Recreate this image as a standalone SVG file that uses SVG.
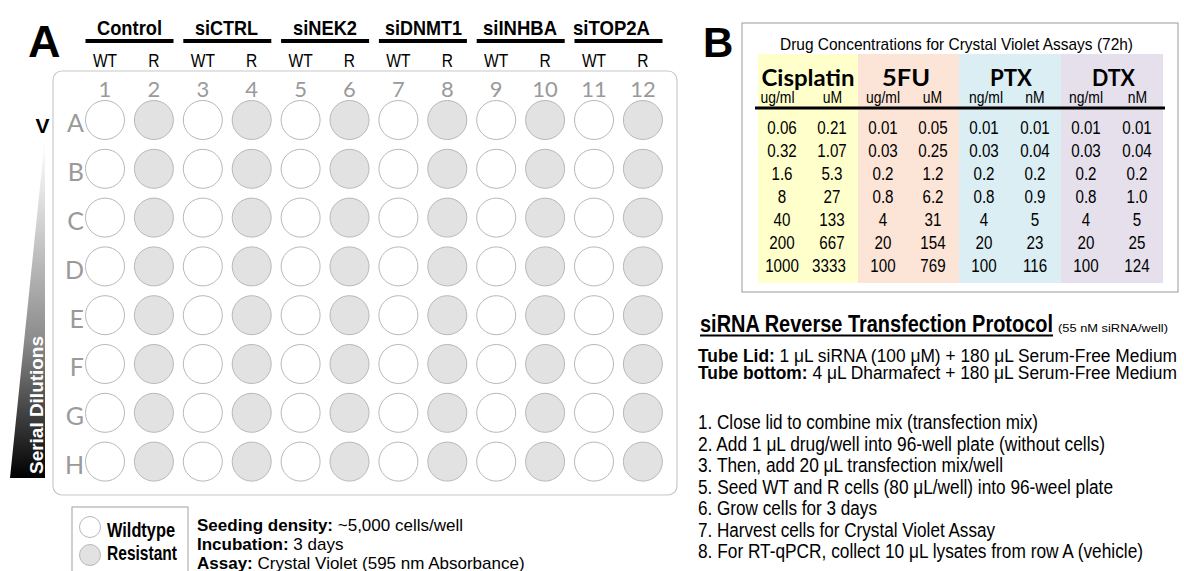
<svg xmlns="http://www.w3.org/2000/svg" width="1184" height="571" viewBox="0 0 1184 571">
<style>
.n{font-family:"Liberation Sans Narrow","Liberation Sans",Arial,sans-serif;font-stretch:condensed}
.s{font-family:"Liberation Sans",Arial,sans-serif}
.b{font-weight:bold}
.cal{font-family:Lato,"Open Sans",sans-serif}
.gr{fill:#9a9a9a}
.w{fill:#fff;stroke:#b8b8b8;stroke-width:1}
.g{fill:#e2e2e2;stroke:#b8b8b8;stroke-width:1}
.bar{stroke:#000;stroke-width:4}
.hd{font-size:21px}
.wr{font-size:19px;text-anchor:middle}
.num{font-size:22px;text-anchor:middle}
.let{font-size:25px;text-anchor:end}
.d{font-size:18.5px;text-anchor:middle}
.u{font-size:17px;text-anchor:middle}
.th{font-size:23px;text-anchor:middle;font-weight:bold}
.p{font-size:20px}
</style>
<defs>
<linearGradient id="wedge" x1="0" y1="0" x2="0" y2="1">
<stop offset="0" stop-color="#fff"/>
<stop offset="0.15" stop-color="#e6e6e6"/>
<stop offset="0.6" stop-color="#8a8a8a"/>
<stop offset="1" stop-color="#000"/>
</linearGradient>
<g id="wellrow">
<circle class="w" cx="105" cy="0" r="19.5"/>
<circle class="g" cx="153.9" cy="0" r="19.5"/>
<circle class="w" cx="202.8" cy="0" r="19.5"/>
<circle class="g" cx="251.7" cy="0" r="19.5"/>
<circle class="w" cx="300.6" cy="0" r="19.5"/>
<circle class="g" cx="349.5" cy="0" r="19.5"/>
<circle class="w" cx="398.4" cy="0" r="19.5"/>
<circle class="g" cx="447.3" cy="0" r="19.5"/>
<circle class="w" cx="496.2" cy="0" r="19.5"/>
<circle class="g" cx="545.1" cy="0" r="19.5"/>
<circle class="w" cx="594" cy="0" r="19.5"/>
<circle class="g" cx="642.9" cy="0" r="19.5"/>
</g>
</defs>
<rect width="1184" height="571" fill="#fff"/>

<g id="panel-a">
<text x="28" y="57" class="s b" font-size="45">A</text>

<g id="headers" class="n b hd" text-anchor="middle">
<text x="129.5" y="35" textLength="65" lengthAdjust="spacingAndGlyphs">Control</text>
<text x="226.5" y="35" textLength="63" lengthAdjust="spacingAndGlyphs">siCTRL</text>
<text x="325" y="35" textLength="64" lengthAdjust="spacingAndGlyphs">siNEK2</text>
<text x="423.5" y="35" textLength="77" lengthAdjust="spacingAndGlyphs">siDNMT1</text>
<text x="520" y="35" textLength="74" lengthAdjust="spacingAndGlyphs">siINHBA</text>
<text x="611.5" y="35" textLength="77" lengthAdjust="spacingAndGlyphs">siTOP2A</text>
</g>
<g id="header-bars" class="bar">
<line x1="85.5" y1="41" x2="173.5" y2="41"/>
<line x1="183.3" y1="41" x2="271.3" y2="41"/>
<line x1="281.1" y1="41" x2="369.1" y2="41"/>
<line x1="378.9" y1="41" x2="466.9" y2="41"/>
<line x1="476.7" y1="41" x2="564.7" y2="41"/>
<line x1="574.5" y1="41" x2="662.5" y2="41"/>
</g>
<g id="wt-r" class="n wr" transform="scale(0.82,1)">
<text x="128.05" y="67">WT</text><text x="187.68" y="67">R</text>
<text x="247.32" y="67">WT</text><text x="306.95" y="67">R</text>
<text x="366.59" y="67">WT</text><text x="426.22" y="67">R</text>
<text x="485.85" y="67">WT</text><text x="545.49" y="67">R</text>
<text x="605.12" y="67">WT</text><text x="664.76" y="67">R</text>
<text x="724.39" y="67">WT</text><text x="784.02" y="67">R</text>
</g>

<g id="plate">
<rect x="53" y="71" width="624" height="424" rx="9" fill="#fff" stroke="#c8c8c8" stroke-width="1.2"/>
<g class="cal num gr">
<text x="105" y="97">1</text><text x="153.9" y="97">2</text><text x="202.8" y="97">3</text>
<text x="251.7" y="97">4</text><text x="300.6" y="97">5</text><text x="349.5" y="97">6</text>
<text x="398.4" y="97">7</text><text x="447.3" y="97">8</text><text x="496.2" y="97">9</text>
<text x="545.1" y="97">10</text><text x="594" y="97">11</text><text x="642.9" y="97">12</text>
</g>
<g class="cal let gr">
<text x="84" y="132">A</text><text x="84" y="181">B</text><text x="84" y="230">C</text>
<text x="84" y="279">D</text><text x="84" y="328">E</text><text x="84" y="376">F</text>
<text x="84" y="425">G</text><text x="84" y="474">H</text>
</g>
<use href="#wellrow" y="120"/>
<use href="#wellrow" y="168.8"/>
<use href="#wellrow" y="217.6"/>
<use href="#wellrow" y="266.4"/>
<use href="#wellrow" y="315.2"/>
<use href="#wellrow" y="364"/>
<use href="#wellrow" y="412.8"/>
<use href="#wellrow" y="461.6"/>
</g>

<g id="dilution">
<text x="42.5" y="133" class="s b" font-size="21" text-anchor="middle">V</text>
<polygon points="45,138 45,478 10,478" fill="url(#wedge)"/>
<text transform="translate(43,405) rotate(-90)" class="n b" font-size="18" fill="#fff" text-anchor="middle" textLength="138" lengthAdjust="spacingAndGlyphs">Serial Dilutions</text>
</g>

<g id="legend">
<rect x="72" y="507" width="116" height="70" fill="#fff" stroke="#a0a0a0" stroke-width="1"/>
<circle class="w" cx="90" cy="527" r="10.5"/>
<circle class="g" cx="90" cy="555" r="10.5"/>
<text x="107" y="537" class="n b" font-size="21" textLength="68" lengthAdjust="spacingAndGlyphs">Wildtype</text>
<text x="107" y="560" class="n b" font-size="21" textLength="70" lengthAdjust="spacingAndGlyphs">Resistant</text>
</g>
<g id="conditions" class="s" font-size="17">
<text x="197" y="531"><tspan class="b">Seeding density:</tspan> ~5,000 cells/well</text>
<text x="197" y="550"><tspan class="b">Incubation:</tspan> 3 days</text>
<text x="197" y="569"><tspan class="b">Assay:</tspan> Crystal Violet (595 nm Absorbance)</text>
</g>
</g>

<g id="panel-b">
<text x="703" y="57" class="s b" font-size="42">B</text>
<g id="table">
<rect x="742" y="23" width="436" height="269" fill="#fff" stroke="#999" stroke-width="1"/>
<text x="956.5" y="50" class="n" font-size="17" text-anchor="middle" textLength="353" lengthAdjust="spacingAndGlyphs">Drug Concentrations for Crystal Violet Assays (72h)</text>
<rect x="758" y="54" width="100" height="229" fill="#ffffcc"/>
<rect x="858" y="54" width="101" height="229" fill="#fce4d6"/>
<rect x="959" y="54" width="102" height="229" fill="#daeef3"/>
<rect x="1061" y="54" width="102" height="229" fill="#e5e0ec"/>
<g class="cal th">
<text x="808" y="86" textLength="93" lengthAdjust="spacingAndGlyphs">Cisplatin</text>
<text x="906" y="86" textLength="48" lengthAdjust="spacingAndGlyphs">5FU</text>
<text x="1011" y="86" textLength="42" lengthAdjust="spacingAndGlyphs">PTX</text>
<text x="1113.5" y="86" textLength="43" lengthAdjust="spacingAndGlyphs">DTX</text>
</g>
<g class="n u" transform="scale(0.82,1)">
<text x="948.17" y="103">ug/ml</text><text x="1015.24" y="103">uM</text>
<text x="1076.83" y="103">ug/ml</text><text x="1137.2" y="103">uM</text>
<text x="1202.44" y="103">ng/ml</text><text x="1262.2" y="103">nM</text>
<text x="1324.39" y="103">ng/ml</text><text x="1387.2" y="103">nM</text>
</g>
<line x1="755" y1="108" x2="1165" y2="108" stroke="#000" stroke-width="3"/>
<g class="n d" transform="scale(0.82,1)">
<text x="953.66" y="134">0.06</text><text x="1014.63" y="134">0.21</text><text x="1076.83" y="134">0.01</text><text x="1137.8" y="134">0.05</text><text x="1200" y="134">0.01</text><text x="1262.2" y="134">0.01</text><text x="1324.39" y="134">0.01</text><text x="1386.59" y="134">0.01</text>
<text x="953.66" y="157">0.32</text><text x="1014.63" y="157">1.07</text><text x="1076.83" y="157">0.03</text><text x="1137.8" y="157">0.25</text><text x="1200" y="157">0.03</text><text x="1262.2" y="157">0.04</text><text x="1324.39" y="157">0.03</text><text x="1386.59" y="157">0.04</text>
<text x="953.66" y="180">1.6</text><text x="1014.63" y="180">5.3</text><text x="1076.83" y="180">0.2</text><text x="1137.8" y="180">1.2</text><text x="1200" y="180">0.2</text><text x="1262.2" y="180">0.2</text><text x="1324.39" y="180">0.2</text><text x="1386.59" y="180">0.2</text>
<text x="953.66" y="203">8</text><text x="1014.63" y="203">27</text><text x="1076.83" y="203">0.8</text><text x="1137.8" y="203">6.2</text><text x="1200" y="203">0.8</text><text x="1262.2" y="203">0.9</text><text x="1324.39" y="203">0.8</text><text x="1386.59" y="203">1.0</text>
<text x="953.66" y="226">40</text><text x="1014.63" y="226">133</text><text x="1076.83" y="226">4</text><text x="1137.8" y="226">31</text><text x="1200" y="226">4</text><text x="1262.2" y="226">5</text><text x="1324.39" y="226">4</text><text x="1386.59" y="226">5</text>
<text x="953.66" y="249">200</text><text x="1014.63" y="249">667</text><text x="1076.83" y="249">20</text><text x="1137.8" y="249">154</text><text x="1200" y="249">20</text><text x="1262.2" y="249">23</text><text x="1324.39" y="249">20</text><text x="1386.59" y="249">25</text>
<text x="953.66" y="272">1000</text><text x="1010.98" y="272">3333</text><text x="1076.83" y="272">100</text><text x="1137.8" y="272">769</text><text x="1200" y="272">100</text><text x="1262.2" y="272">116</text><text x="1324.39" y="272">100</text><text x="1386.59" y="272">124</text>
</g>
</g>

<g id="protocol" class="n">
<text x="700" y="332" class="b" font-size="23.5" textLength="353" lengthAdjust="spacingAndGlyphs">siRNA Reverse Transfection Protocol</text>
<line x1="700" y1="335.5" x2="1053" y2="335.5" stroke="#000" stroke-width="2"/>
<text x="1058" y="332" font-size="11" textLength="110" lengthAdjust="spacingAndGlyphs">(55 nM siRNA/well)</text>
<text x="698" y="362" font-size="18" textLength="479" lengthAdjust="spacingAndGlyphs"><tspan class="b">Tube Lid:</tspan> 1 μL siRNA (100 μM) + 180 μL Serum-Free Medium</text>
<text x="698" y="378.5" font-size="18" textLength="479" lengthAdjust="spacingAndGlyphs"><tspan class="b">Tube bottom:</tspan> 4 μL Dharmafect + 180 μL Serum-Free  Medium</text>
<g class="p">
<text x="698" y="429" textLength="340" lengthAdjust="spacingAndGlyphs">1. Close lid to combine mix (transfection mix)</text>
<text x="698" y="450.5" textLength="407" lengthAdjust="spacingAndGlyphs">2. Add 1 μL drug/well into 96-well plate (without cells)</text>
<text x="698" y="472" textLength="305" lengthAdjust="spacingAndGlyphs">3. Then, add 20 μL transfection mix/well</text>
<text x="698" y="493.5" textLength="415" lengthAdjust="spacingAndGlyphs">5. Seed WT and R cells (80 μL/well) into 96-weel plate</text>
<text x="698" y="515" textLength="179" lengthAdjust="spacingAndGlyphs">6. Grow cells for 3 days</text>
<text x="698" y="536.5" textLength="297" lengthAdjust="spacingAndGlyphs">7. Harvest cells for Crystal Violet Assay</text>
<text x="698" y="558" textLength="445" lengthAdjust="spacingAndGlyphs">8. For RT-qPCR, collect 10 μL lysates from row A (vehicle)</text>
</g>
</g>
</g>
</svg>
